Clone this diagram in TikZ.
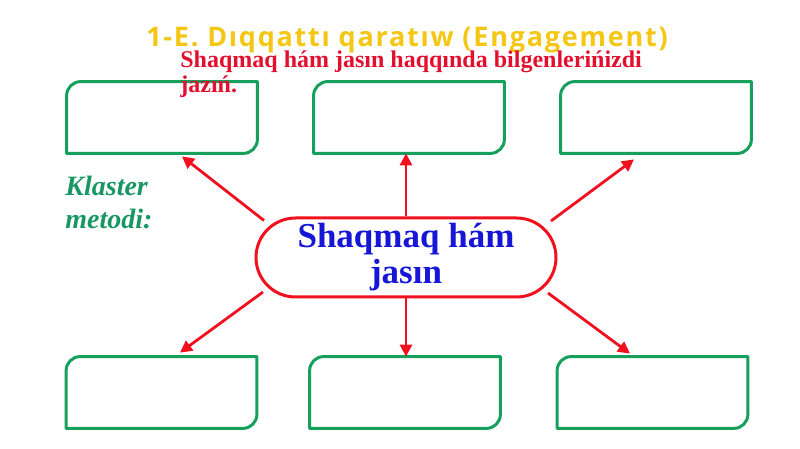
\documentclass[tikz,border=0pt]{standalone}
\usepackage{fontspec}
\setmainfont{Liberation Serif}
\newfontfamily\titlefont{Open Sans}[LetterSpace=6.5]
\usetikzlibrary{positioning, calc, arrows.meta}
\definecolor{boxgreen}{RGB}{22,160,92}
\definecolor{textgreen}{RGB}{24,150,100}
\definecolor{hubred}{RGB}{240,16,30}
\definecolor{notered}{RGB}{226,16,46}
\definecolor{hubblue}{RGB}{22,22,214}
\definecolor{titlegold}{RGB}{245,198,20}
\tikzset{
>={Triangle[length=6pt,width=6pt]}, % filled arrow heads
answer/.style={minimum width=95pt, minimum height=35.5pt, inner sep=0pt}, % empty boxes to fill in
boxline/.style={draw=boxgreen, line width=1.5pt, line join=round},
hub/.style={draw=hubred, line width=1.5pt, rounded corners=19.75pt, minimum width=150pt, minimum height=39.5pt, inner sep=0pt, align=center, font=\fontsize{17.5}{19}\selectfont\bfseries, text=hubblue},
spoke/.style={->, draw=hubred, line width=1.4pt},
}
\begin{document}
\begin{tikzpicture}[x=0.5pt, y=-0.5pt]
\useasboundingbox (0,0) rectangle (800,449);
% answer boxes
\node[answer] (tl) at (162,117.5) {};
\node[answer] (tc) at (409,117.5) {};
\node[answer] (tr) at (656,117.5) {};
\node[answer] (bl) at (161.5,392.5) {};
\node[answer] (bc) at (405,392.5) {};
\node[answer] (br) at (652.5,392.5) {};
\foreach \b in {tl,tc,tr,bl,bc,br}
    \draw[boxline] (\b.south west) -- ([yshift=-7pt]\b.north west) arc[start angle=180, end angle=90, radius=7pt]
        -- (\b.north east) -- ([yshift=7pt]\b.south east) arc[start angle=0, end angle=-90, radius=7pt] -- cycle;
% centre
\node[hub] (hub) at (406,257.5) {Shaqmaq hám\\[-1pt]jasın};
% titles
\node[font=\titlefont\fontsize{13.5}{16}\selectfont\bfseries, text=titlegold] (title) at (407,40) {1-E. Dıqqattı qaratıw (Engagement)};
\node[anchor=north west, inner sep=0pt, align=left, text=notered, font=\fontsize{12}{12.5}\selectfont\bfseries] (task) at (180,50) {Shaqmaq hám jasın haqqında bilgenlerińizdi\\jazıń.};
\node[anchor=north west, inner sep=0pt, align=left, text=textgreen, font=\fontsize{14}{16.5}\selectfont\bfseries\itshape] (method) at (65,176) {Klaster\\metodi:};
% arrows
\draw[spoke] ($(hub)+(-142,-37)$) -- ($(tl.south)+(20,3)$);
\draw[spoke] (hub.north) -- (hub.north |- tc.south);
\draw[spoke] ($(hub)+(145,-36.5)$) -- ($(tr.south)+(-22,6)$);
\draw[spoke] ($(hub)+(-143,34.5)$) -- ($(bl.north)+(18.5,-4)$);
\draw[spoke] (hub.south) -- (hub.south |- bc.north);
\draw[spoke] ($(hub)+(142,35.5)$) -- ($(br.north)+(-22.5,-3)$);
\end{tikzpicture}
\end{document}
